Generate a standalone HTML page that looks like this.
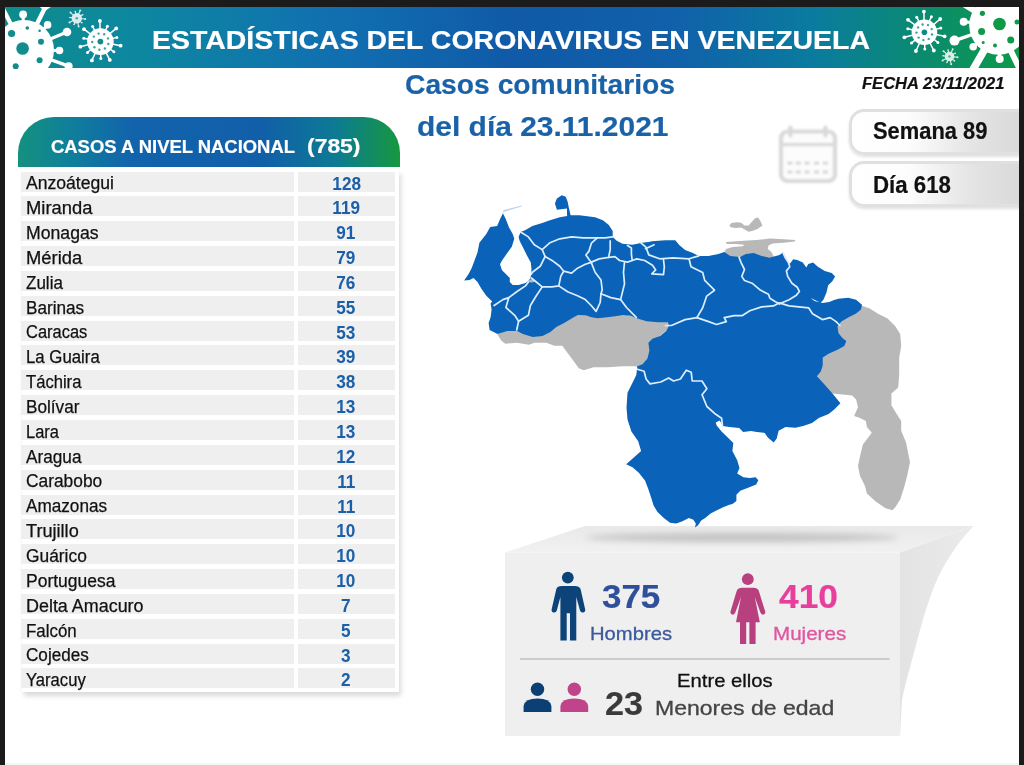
<!DOCTYPE html>
<html lang="es">
<head>
<meta charset="utf-8">
<title>Estadísticas del Coronavirus en Venezuela</title>
<style>
html,body{margin:0;padding:0}
body{width:1024px;height:765px;position:relative;overflow:hidden;background:#fff;font-family:"Liberation Sans",sans-serif}
.frame{position:absolute;background:#1b1b1b}
.header{position:absolute;left:5px;top:6px;width:1014px;height:61.5px;
 background:linear-gradient(90deg,#0e8c8a 0%,#0d87a0 13%,#1170b0 32%,#105aa8 50%,#1060aa 66%,#0a7c9e 80%,#0a8a72 90%,#0d9a48 100%)}
.t{position:absolute;white-space:nowrap;line-height:1;transform-origin:0 0;margin:0}
.gfx{position:absolute;left:0;top:0;width:1024px;height:765px}
.thead{position:absolute;left:18px;top:116.5px;width:381.5px;height:50px;border-radius:36px 36px 0 0;
 background:linear-gradient(90deg,#14917e 0%,#0f809a 13%,#1263ac 30%,#115fa8 64%,#0d7a94 83%,#16983e 100%)}
.tshadow{position:absolute;left:22px;top:170px;width:377px;height:521.5px;background:#fff;box-shadow:2px 4px 5px rgba(0,0,0,.15)}
.row{position:absolute;left:21px;width:374px;height:20px}
.row .c1,.row .c2{position:absolute;top:0;height:20px;background:#efefef;line-height:20px;font-size:17.5px;white-space:nowrap}
.row .c1{left:0;width:272.5px;color:#111}
.row .c2{left:277px;width:96.5px;color:#1a5fa8;font-weight:700;text-align:center}
.row .c1 span{position:absolute;left:5px;top:1.85px;-webkit-text-stroke:.25px #111;transform:scaleX(0.9939);transform-origin:0 0}
.row .c2 span{display:inline-block;position:relative;top:2.05px;font-size:17.6px;transform:scaleX(.977)}
.pill{position:absolute;left:849px;width:200px;height:40.4px;border:3.2px solid #e0e0e0;border-radius:15px 0 0 15px;
 background:linear-gradient(90deg,#fff 0%,#fdfdfd 28%,#e4e4e4 60%,#d2d2d2 100%);box-shadow:0 2px 3px rgba(0,0,0,.12)}
</style>
</head>
<body>
<div class="header"></div>
<svg class="gfx" viewBox="0 0 1024 765">
<defs>
<filter id="blur2"><feGaussianBlur stdDeviation="2.2"/></filter>
<filter id="blur3" x="-10%" y="-300%" width="120%" height="700%"><feGaussianBlur stdDeviation="3"/></filter>
<filter id="blur1"><feGaussianBlur stdDeviation="0.8"/></filter>
<linearGradient id="topface" x1="0" y1="0" x2="0" y2="1"><stop offset="0" stop-color="#e9e9e9"/><stop offset="1" stop-color="#f1f1f1"/></linearGradient>
<linearGradient id="sideface" x1="0" y1="0" x2="1" y2="0"><stop offset="0" stop-color="#e3e3e3"/><stop offset="1" stop-color="#ebebeb"/></linearGradient>
</defs>
<!-- header viruses -->
<clipPath id="hdrclip"><rect x="5" y="6" width="1014" height="63"/></clipPath>
<g clip-path="url(#hdrclip)">
<g>
<line x1="24.0" y1="50.0" x2="45.8" y2="6.1" stroke="#fff" stroke-width="4.4" stroke-linecap="round"/>
<circle cx="45.8" cy="6.1" r="0.0" fill="#fff"/>
<line x1="24.0" y1="50.0" x2="67.0" y2="32.0" stroke="#fff" stroke-width="3.2" stroke-linecap="round"/>
<circle cx="67.0" cy="32.0" r="4.3" fill="#fff"/>
<line x1="24.0" y1="50.0" x2="47.6" y2="24.9" stroke="#fff" stroke-width="3.0" stroke-linecap="round"/>
<circle cx="47.6" cy="24.9" r="3.8" fill="#fff"/>
<line x1="24.0" y1="50.0" x2="59.5" y2="50.5" stroke="#fff" stroke-width="3.0" stroke-linecap="round"/>
<circle cx="59.5" cy="50.5" r="3.8" fill="#fff"/>
<line x1="24.0" y1="50.0" x2="68.6" y2="66.2" stroke="#fff" stroke-width="3.4" stroke-linecap="round"/>
<circle cx="68.6" cy="66.2" r="4.0" fill="#fff"/>
<line x1="24.0" y1="50.0" x2="23.1" y2="14.5" stroke="#fff" stroke-width="3.0" stroke-linecap="round"/>
<circle cx="23.1" cy="14.5" r="3.9" fill="#fff"/>
<line x1="24.0" y1="50.0" x2="2.2" y2="7.2" stroke="#fff" stroke-width="4.2" stroke-linecap="round"/>
<circle cx="2.2" cy="7.2" r="0.0" fill="#fff"/>
<circle cx="24.0" cy="50.0" r="30.0" fill="#fff"/>
<circle cx="11.6" cy="33.5" r="3.6" fill="#128c8c"/>
<circle cx="22.6" cy="48.5" r="6.3" fill="#128c8c"/>
<circle cx="41.0" cy="41.7" r="3.0" fill="#128c8c"/>
<circle cx="39.6" cy="60.2" r="3.0" fill="#128c8c"/>
<circle cx="27.3" cy="28.0" r="1.8" fill="#128c8c"/>
<circle cx="15.7" cy="66.3" r="3.0" fill="#128c8c"/>
<circle cx="39.6" cy="30.8" r="1.3" fill="#128c8c"/>
</g>
<path d="M44.5 9.5 L40 5 M44.5 9.5 L51 5" stroke="#fff" stroke-width="3" stroke-linecap="round"/>
<g opacity="1.00">
<line x1="112.1" y1="44.0" x2="120.6" y2="45.7" stroke="#fff" stroke-width="1.5"/>
<circle cx="120.6" cy="45.7" r="1.9" fill="#fff"/>
<line x1="109.9" y1="48.8" x2="113.9" y2="51.8" stroke="#fff" stroke-width="1.5"/>
<circle cx="113.9" cy="51.8" r="1.5" fill="#fff"/>
<line x1="105.9" y1="52.3" x2="109.8" y2="59.9" stroke="#fff" stroke-width="1.5"/>
<circle cx="109.8" cy="59.9" r="1.9" fill="#fff"/>
<line x1="100.7" y1="53.6" x2="100.8" y2="58.5" stroke="#fff" stroke-width="1.5"/>
<circle cx="100.8" cy="58.5" r="1.5" fill="#fff"/>
<line x1="95.5" y1="52.5" x2="91.9" y2="60.4" stroke="#fff" stroke-width="1.5"/>
<circle cx="91.9" cy="60.4" r="1.9" fill="#fff"/>
<line x1="91.2" y1="49.3" x2="87.5" y2="52.5" stroke="#fff" stroke-width="1.5"/>
<circle cx="87.5" cy="52.5" r="1.5" fill="#fff"/>
<line x1="88.8" y1="44.5" x2="80.4" y2="46.7" stroke="#fff" stroke-width="1.5"/>
<circle cx="80.4" cy="46.7" r="1.9" fill="#fff"/>
<line x1="88.7" y1="39.2" x2="83.8" y2="38.2" stroke="#fff" stroke-width="1.5"/>
<circle cx="83.8" cy="38.2" r="1.5" fill="#fff"/>
<line x1="90.9" y1="34.4" x2="84.0" y2="29.2" stroke="#fff" stroke-width="1.5"/>
<circle cx="84.0" cy="29.2" r="1.9" fill="#fff"/>
<line x1="94.9" y1="30.9" x2="92.7" y2="26.6" stroke="#fff" stroke-width="1.5"/>
<circle cx="92.7" cy="26.6" r="1.5" fill="#fff"/>
<line x1="100.1" y1="29.6" x2="99.9" y2="21.0" stroke="#fff" stroke-width="1.5"/>
<circle cx="99.9" cy="21.0" r="1.9" fill="#fff"/>
<line x1="105.3" y1="30.7" x2="107.4" y2="26.2" stroke="#fff" stroke-width="1.5"/>
<circle cx="107.4" cy="26.2" r="1.5" fill="#fff"/>
<line x1="109.6" y1="33.9" x2="116.2" y2="28.4" stroke="#fff" stroke-width="1.5"/>
<circle cx="116.2" cy="28.4" r="1.9" fill="#fff"/>
<line x1="112.0" y1="38.7" x2="116.8" y2="37.4" stroke="#fff" stroke-width="1.5"/>
<circle cx="116.8" cy="37.4" r="1.5" fill="#fff"/>
<circle cx="100.4" cy="41.6" r="13.3" fill="#fff"/>
<circle cx="100.4" cy="41.6" r="2.9" fill="#128c8c"/>
<circle cx="108.3" cy="44.0" r="1.2" fill="#128c8c" opacity=".8"/>
<circle cx="104.9" cy="48.5" r="1.2" fill="#128c8c" opacity=".8"/>
<circle cx="99.4" cy="49.8" r="1.2" fill="#128c8c" opacity=".8"/>
<circle cx="94.4" cy="47.2" r="1.2" fill="#128c8c" opacity=".8"/>
<circle cx="92.2" cy="42.0" r="1.2" fill="#128c8c" opacity=".8"/>
<circle cx="93.8" cy="36.6" r="1.2" fill="#128c8c" opacity=".8"/>
<circle cx="98.6" cy="33.6" r="1.2" fill="#128c8c" opacity=".8"/>
<circle cx="104.2" cy="34.3" r="1.2" fill="#128c8c" opacity=".8"/>
<circle cx="108.0" cy="38.4" r="1.2" fill="#128c8c" opacity=".8"/>
</g>
<g opacity="0.85">
<line x1="81.5" y1="18.7" x2="85.2" y2="19.0" stroke="#fff" stroke-width="1.1"/>
<circle cx="85.2" cy="19.0" r="1.0" fill="#fff"/>
<line x1="80.3" y1="21.3" x2="81.9" y2="22.8" stroke="#fff" stroke-width="1.1"/>
<circle cx="81.9" cy="22.8" r="0.8" fill="#fff"/>
<line x1="77.8" y1="22.8" x2="78.6" y2="26.4" stroke="#fff" stroke-width="1.1"/>
<circle cx="78.6" cy="26.4" r="1.0" fill="#fff"/>
<line x1="74.9" y1="22.5" x2="74.0" y2="24.5" stroke="#fff" stroke-width="1.1"/>
<circle cx="74.0" cy="24.5" r="0.8" fill="#fff"/>
<line x1="72.8" y1="20.6" x2="69.5" y2="22.4" stroke="#fff" stroke-width="1.1"/>
<circle cx="69.5" cy="22.4" r="1.0" fill="#fff"/>
<line x1="72.1" y1="17.7" x2="69.9" y2="17.5" stroke="#fff" stroke-width="1.1"/>
<circle cx="69.9" cy="17.5" r="0.8" fill="#fff"/>
<line x1="73.3" y1="15.1" x2="70.5" y2="12.6" stroke="#fff" stroke-width="1.1"/>
<circle cx="70.5" cy="12.6" r="1.0" fill="#fff"/>
<line x1="75.8" y1="13.6" x2="75.3" y2="11.5" stroke="#fff" stroke-width="1.1"/>
<circle cx="75.3" cy="11.5" r="0.8" fill="#fff"/>
<line x1="78.7" y1="13.9" x2="80.2" y2="10.5" stroke="#fff" stroke-width="1.1"/>
<circle cx="80.2" cy="10.5" r="1.0" fill="#fff"/>
<line x1="80.8" y1="15.8" x2="82.7" y2="14.7" stroke="#fff" stroke-width="1.1"/>
<circle cx="82.7" cy="14.7" r="0.8" fill="#fff"/>
<circle cx="76.8" cy="18.2" r="5.2" fill="#fff"/>
<circle cx="76.8" cy="18.2" r="1.3" fill="#128c8c" opacity=".7"/>
</g>
<g opacity="1.00">
<line x1="935.7" y1="34.5" x2="944.6" y2="36.3" stroke="#fff" stroke-width="1.5"/>
<circle cx="944.6" cy="36.3" r="1.9" fill="#fff"/>
<line x1="933.6" y1="39.2" x2="937.9" y2="42.4" stroke="#fff" stroke-width="1.5"/>
<circle cx="937.9" cy="42.4" r="1.5" fill="#fff"/>
<line x1="929.7" y1="42.5" x2="933.8" y2="50.5" stroke="#fff" stroke-width="1.5"/>
<circle cx="933.8" cy="50.5" r="1.9" fill="#fff"/>
<line x1="924.7" y1="43.7" x2="924.8" y2="49.1" stroke="#fff" stroke-width="1.5"/>
<circle cx="924.8" cy="49.1" r="1.5" fill="#fff"/>
<line x1="919.7" y1="42.7" x2="915.9" y2="51.0" stroke="#fff" stroke-width="1.5"/>
<circle cx="915.9" cy="51.0" r="1.9" fill="#fff"/>
<line x1="915.6" y1="39.6" x2="911.5" y2="43.1" stroke="#fff" stroke-width="1.5"/>
<circle cx="911.5" cy="43.1" r="1.5" fill="#fff"/>
<line x1="913.2" y1="35.0" x2="904.4" y2="37.3" stroke="#fff" stroke-width="1.5"/>
<circle cx="904.4" cy="37.3" r="1.9" fill="#fff"/>
<line x1="913.1" y1="29.9" x2="907.8" y2="28.8" stroke="#fff" stroke-width="1.5"/>
<circle cx="907.8" cy="28.8" r="1.5" fill="#fff"/>
<line x1="915.2" y1="25.2" x2="908.0" y2="19.8" stroke="#fff" stroke-width="1.5"/>
<circle cx="908.0" cy="19.8" r="1.9" fill="#fff"/>
<line x1="919.1" y1="21.9" x2="916.7" y2="17.2" stroke="#fff" stroke-width="1.5"/>
<circle cx="916.7" cy="17.2" r="1.5" fill="#fff"/>
<line x1="924.1" y1="20.7" x2="923.9" y2="11.6" stroke="#fff" stroke-width="1.5"/>
<circle cx="923.9" cy="11.6" r="1.9" fill="#fff"/>
<line x1="929.1" y1="21.7" x2="931.4" y2="16.8" stroke="#fff" stroke-width="1.5"/>
<circle cx="931.4" cy="16.8" r="1.5" fill="#fff"/>
<line x1="933.2" y1="24.8" x2="940.2" y2="19.0" stroke="#fff" stroke-width="1.5"/>
<circle cx="940.2" cy="19.0" r="1.9" fill="#fff"/>
<line x1="935.6" y1="29.4" x2="940.8" y2="28.0" stroke="#fff" stroke-width="1.5"/>
<circle cx="940.8" cy="28.0" r="1.5" fill="#fff"/>
<circle cx="924.4" cy="32.2" r="12.8" fill="#fff"/>
<circle cx="924.4" cy="32.2" r="2.8" fill="#0a8a8a"/>
<circle cx="932.0" cy="34.5" r="1.2" fill="#0a8a8a" opacity=".8"/>
<circle cx="928.7" cy="38.9" r="1.2" fill="#0a8a8a" opacity=".8"/>
<circle cx="923.4" cy="40.1" r="1.2" fill="#0a8a8a" opacity=".8"/>
<circle cx="918.6" cy="37.6" r="1.2" fill="#0a8a8a" opacity=".8"/>
<circle cx="916.5" cy="32.6" r="1.2" fill="#0a8a8a" opacity=".8"/>
<circle cx="918.1" cy="27.4" r="1.2" fill="#0a8a8a" opacity=".8"/>
<circle cx="922.6" cy="24.5" r="1.2" fill="#0a8a8a" opacity=".8"/>
<circle cx="928.0" cy="25.1" r="1.2" fill="#0a8a8a" opacity=".8"/>
<circle cx="931.7" cy="29.1" r="1.2" fill="#0a8a8a" opacity=".8"/>
</g>
<g opacity="0.85">
<line x1="953.8" y1="56.9" x2="957.5" y2="57.3" stroke="#fff" stroke-width="1.1"/>
<circle cx="957.5" cy="57.3" r="1.0" fill="#fff"/>
<line x1="952.7" y1="59.4" x2="954.4" y2="60.9" stroke="#fff" stroke-width="1.1"/>
<circle cx="954.4" cy="60.9" r="0.8" fill="#fff"/>
<line x1="950.4" y1="60.7" x2="951.2" y2="64.3" stroke="#fff" stroke-width="1.1"/>
<circle cx="951.2" cy="64.3" r="1.0" fill="#fff"/>
<line x1="947.8" y1="60.5" x2="946.9" y2="62.5" stroke="#fff" stroke-width="1.1"/>
<circle cx="946.9" cy="62.5" r="0.8" fill="#fff"/>
<line x1="945.8" y1="58.7" x2="942.6" y2="60.5" stroke="#fff" stroke-width="1.1"/>
<circle cx="942.6" cy="60.5" r="1.0" fill="#fff"/>
<line x1="945.2" y1="56.1" x2="943.0" y2="55.8" stroke="#fff" stroke-width="1.1"/>
<circle cx="943.0" cy="55.8" r="0.8" fill="#fff"/>
<line x1="946.3" y1="53.6" x2="943.5" y2="51.2" stroke="#fff" stroke-width="1.1"/>
<circle cx="943.5" cy="51.2" r="1.0" fill="#fff"/>
<line x1="948.6" y1="52.3" x2="948.1" y2="50.1" stroke="#fff" stroke-width="1.1"/>
<circle cx="948.1" cy="50.1" r="0.8" fill="#fff"/>
<line x1="951.2" y1="52.5" x2="952.7" y2="49.2" stroke="#fff" stroke-width="1.1"/>
<circle cx="952.7" cy="49.2" r="1.0" fill="#fff"/>
<line x1="953.2" y1="54.3" x2="955.2" y2="53.2" stroke="#fff" stroke-width="1.1"/>
<circle cx="955.2" cy="53.2" r="0.8" fill="#fff"/>
<circle cx="949.5" cy="56.5" r="4.8" fill="#fff"/>
<circle cx="949.5" cy="56.5" r="1.2" fill="#0a8a70" opacity=".7"/>
</g>
<g>
<line x1="998.5" y1="25.5" x2="954.5" y2="40.6" stroke="#fff" stroke-width="3.4" stroke-linecap="round"/>
<circle cx="954.5" cy="40.6" r="5.0" fill="#fff"/>
<line x1="998.5" y1="25.5" x2="963.7" y2="21.8" stroke="#fff" stroke-width="3.0" stroke-linecap="round"/>
<circle cx="963.7" cy="21.8" r="4.0" fill="#fff"/>
<line x1="998.5" y1="25.5" x2="999.7" y2="59.0" stroke="#fff" stroke-width="3.2" stroke-linecap="round"/>
<circle cx="999.7" cy="59.0" r="4.0" fill="#fff"/>
<line x1="998.5" y1="25.5" x2="973.2" y2="46.7" stroke="#fff" stroke-width="3.0" stroke-linecap="round"/>
<circle cx="973.2" cy="46.7" r="3.8" fill="#fff"/>
<line x1="998.5" y1="25.5" x2="972.5" y2="70.5" stroke="#fff" stroke-width="7.5" stroke-linecap="round"/>
<circle cx="972.5" cy="70.5" r="0.0" fill="#fff"/>
<line x1="998.5" y1="25.5" x2="1020.4" y2="70.4" stroke="#fff" stroke-width="6.0" stroke-linecap="round"/>
<circle cx="1020.4" cy="70.4" r="0.0" fill="#fff"/>
<line x1="998.5" y1="25.5" x2="959.5" y2="1.1" stroke="#fff" stroke-width="6.5" stroke-linecap="round"/>
<circle cx="959.5" cy="1.1" r="0.0" fill="#fff"/>
<circle cx="998.5" cy="25.5" r="29.3" fill="#fff"/>
<circle cx="999.5" cy="24.0" r="6.3" fill="#109a48"/>
<circle cx="981.6" cy="31.4" r="3.5" fill="#109a48"/>
<circle cx="1010.7" cy="40.0" r="3.5" fill="#109a48"/>
<circle cx="982.4" cy="13.3" r="2.6" fill="#109a48"/>
<circle cx="995.0" cy="45.5" r="2.0" fill="#109a48"/>
<circle cx="983.2" cy="42.4" r="1.5" fill="#109a48"/>
<circle cx="1017.0" cy="22.0" r="2.5" fill="#109a48"/>
</g>
</g>
<!-- 3D box -->
<polygon points="505,552.5 585,526 973.5,526 900,552.5" fill="url(#topface)"/>
<ellipse cx="742" cy="537.5" rx="156" ry="4.6" fill="#9a9a9a" opacity=".5" filter="url(#blur3)"/>
<path d="M900 552.5 L973.5 526 C955 545 940 570 932 592 S920 630 915.5 647 S905 685 902 700 L900 736 Z" fill="url(#sideface)"/>
<rect x="505" y="552.5" width="395" height="183.5" fill="#efefef"/>
<rect x="520" y="658.3" width="369.5" height="1.4" fill="#bdbdbd"/>
<!-- map -->
<path fill="#b8b8b8" d="M497.5 333.9 L507.3 330.0 L517.1 330.0 L522.9 332.9 L532.7 335.9 L542.5 334.9 L550.4 331.0 L556.3 326.1 L564.1 322.2 L572.0 317.3 L577.8 313.9 L585.7 314.3 L597.5 317.3 L615.1 315.3 L622.9 313.9 L636.7 317.3 L658.2 321.2 L669.0 321.2 L670.0 327.1 L654.3 340.8 L651.4 358.4 L640.6 368.2 L635.7 366.3 L622.9 366.3 L607.3 367.3 L593.5 367.3 L583.7 370.2 L578.8 368.2 L573.9 361.4 L568.0 353.5 L562.2 345.7 L554.3 345.7 L546.5 342.7 L534.7 342.7 L528.8 344.7 L517.1 342.7 L505.3 343.7 L501.4 340.8 L498.4 335.9Z"/>
<path fill="#b8b8b8" d="M862.0 305.7 L869.8 308.6 L877.6 313.5 L887.5 318.4 L895.3 326.3 L900.2 334.1 L901.2 345.9 L899.2 357.6 L899.2 373.3 L899.2 373.9 L898.2 387.6 L891.4 393.5 L891.4 405.3 L897.3 415.1 L901.2 421.0 L901.2 430.8 L906.1 442.5 L908.0 452.4 L910.0 462.2 L907.1 475.9 L904.1 487.6 L900.2 499.4 L895.3 507.3 L892.4 510.2 L885.5 508.2 L875.7 501.4 L866.9 493.5 L864.9 485.7 L860.0 475.9 L858.0 466.1 L860.0 456.3 L862.9 444.5 L868.8 436.7 L871.8 432.7 L866.9 426.9 L865.9 421.0 L860.0 418.0 L854.1 416.1 L858.0 407.3 L856.1 399.4 L852.2 395.5 L842.4 394.5 L832.5 393.5 L814.9 375.9 L818.8 357.6 L834.5 338.0 L834.5 322.4 L854.1 310.6Z"/>
<path fill="#b8b8b8" d="M729.4 225.6 L731.5 223.1 L737.0 222.2 L741.1 222.8 L744.5 225.6 L748.6 225.6 L752.1 221.5 L755.5 218.0 L758.2 217.4 L761.0 222.2 L762.4 225.6 L757.5 229.0 L752.1 231.1 L748.6 231.8 L745.2 229.7 L741.1 227.6 L735.6 228.1 L730.8 227.2Z"/>
<path fill="#b8b8b8" d="M726.0 242.1 L739.7 241.0 L756.2 240.0 L769.9 238.6 L783.6 239.3 L795.3 240.0 L794.6 241.4 L783.6 242.7 L772.6 243.4 L768.5 245.5 L767.8 248.9 L771.3 251.7 L774.3 257.8 L769.9 258.5 L761.7 257.2 L753.4 254.4 L747.9 253.7 L741.1 256.5 L735.6 257.8 L728.7 256.5 L724.3 252.4 L726.0 248.9 L732.8 246.9 L742.4 246.2 L744.5 244.8 L735.6 244.1 L726.7 244.1Z"/>
<path fill="#0a63b8" d="M502.9 213.3 L505.9 219.2 L508.8 227.1 L512.7 233.9 L514.3 238.8 L511.8 246.7 L506.9 253.5 L502.0 260.4 L500.0 264.3 L502.0 270.2 L506.9 275.1 L509.8 278.0 L509.8 282.0 L512.7 284.9 L518.6 284.9 L525.5 282.9 L528.4 281.0 L530.4 278.0 L531.4 274.1 L531.4 268.2 L530.8 262.4 L527.5 256.5 L523.5 248.6 L519.6 240.8 L518.6 236.9 L520.6 232.0 L525.5 230.0 L532.4 226.1 L542.2 223.1 L550.0 220.2 L559.8 217.3 L567.1 216.1 L566.9 208.6 L556.9 209.8 L554.9 203.5 L556.9 198.6 L561.8 195.3 L565.7 196.7 L567.6 201.6 L568.8 207.5 L570.6 215.3 L579.4 215.3 L587.3 216.3 L595.1 217.3 L602.9 220.2 L608.8 225.1 L612.7 231.0 L612.7 236.9 L616.7 240.8 L622.5 243.7 L632.4 244.7 L642.2 242.7 L650.0 241.8 L651.8 241.2 L665.5 240.2 L675.3 240.2 L679.2 245.1 L685.1 250.0 L692.9 252.9 L698.8 255.9 L708.6 255.9 L718.4 253.9 L724.3 252.0 L730.2 255.9 L740.0 256.9 L745.9 253.9 L753.7 252.9 L761.6 255.9 L769.4 257.8 L779.5 255.1 L782.9 252.4 L785.0 255.8 L787.1 259.9 L789.8 264.0 L793.2 259.2 L797.3 259.9 L802.8 262.6 L806.3 267.4 L808.3 264.0 L813.1 262.6 L817.9 266.8 L824.8 270.9 L831.7 272.9 L835.1 276.4 L832.3 281.2 L828.2 285.3 L826.4 292.8 L823.4 299.7 L820.7 302.7 L810.6 298.0 L814.5 301.0 L822.4 302.9 L829.2 302.0 L834.1 300.0 L838.4 298.8 L848.2 297.8 L856.1 299.8 L862.0 304.7 L861.0 309.6 L856.1 313.5 L848.2 317.5 L841.4 321.4 L837.5 326.3 L838.4 333.1 L842.4 338.0 L846.3 341.0 L844.3 345.9 L837.5 349.8 L828.6 353.7 L822.7 357.6 L822.7 365.5 L820.8 371.4 L816.9 376.3 L824.7 384.7 L832.5 393.5 L840.4 403.3 L834.5 409.2 L828.6 414.1 L818.8 418.0 L812.0 422.9 L803.1 425.9 L795.3 427.8 L785.5 426.9 L778.6 430.8 L776.7 438.6 L773.7 442.5 L767.8 437.6 L764.7 432.9 L756.9 432.0 L751.0 431.0 L743.1 432.0 L739.2 428.0 L729.4 427.1 L722.5 426.1 L722.5 424.5 L719.6 420.6 L715.7 422.5 L716.7 425.5 L721.6 431.4 L727.5 437.3 L733.3 443.1 L732.4 451.0 L737.2 460.3 L739.5 468.1 L737.2 473.6 L743.4 477.2 L749.7 478.0 L755.6 477.2 L758.3 480.3 L756.2 484.5 L748.1 487.7 L740.3 490.8 L736.4 494.7 L736.4 500.9 L732.5 504.1 L729.4 504.8 L723.1 507.2 L716.9 510.3 L710.6 513.4 L705.2 518.1 L701.2 520.5 L698.1 525.2 L695.0 527.5 L695.8 523.6 L693.4 519.7 L688.8 518.1 L682.5 521.2 L676.2 523.6 L670.0 522.8 L663.8 518.1 L657.5 511.9 L653.6 505.6 L651.2 497.8 L648.1 488.4 L645.0 480.6 L638.8 472.8 L632.5 467.3 L626.2 464.2 L634.1 457.2 L641.1 450.9 L638.2 441.2 L631.4 431.4 L627.5 419.6 L626.5 407.8 L627.5 392.7 L632.4 382.9 L636.3 375.1 L637.3 366.3 L642.5 364.3 L647.5 358.4 L649.4 350.6 L648.4 342.7 L652.4 338.8 L660.2 335.9 L666.1 331.0 L669.0 326.1 L668.0 322.2 L658.2 322.2 L646.5 321.2 L636.7 318.2 L630.8 315.7 L622.9 314.9 L615.1 316.3 L607.3 317.3 L597.5 318.2 L591.6 317.3 L585.7 315.3 L577.8 314.9 L572.0 318.2 L564.1 323.1 L556.3 327.1 L550.4 332.0 L542.5 335.9 L532.7 336.9 L522.9 333.9 L517.1 331.0 L507.3 331.0 L497.5 333.9 L489.6 330.0 L488.6 323.1 L490.6 317.3 L491.6 309.4 L490.6 303.5 L492.2 301.6 L486.3 295.7 L481.4 288.8 L477.5 282.0 L473.5 278.0 L469.6 280.0 L464.1 280.4 L468.6 274.1 L471.6 268.2 L474.5 260.4 L477.5 252.5 L479.4 242.7 L486.3 233.9 L490.2 227.1 L497.1 226.1 L500.0 219.2Z"/>
<path fill="#b9d2ec" d="M502.5 212.9 L503.9 210.0 L521.6 205.5 L521.8 206.5 L504.9 211.4Z"/>
<ellipse cx="531.5" cy="280.8" rx="3.2" ry="1.6" fill="#b8b8b8"/>
<g fill="none" stroke="#dceeff" stroke-width="1.7" stroke-linejoin="round" stroke-linecap="round">
<path d="M520.6 232.0 L528.4 236.9 L534.3 244.7 L542.2 249.6 L545.1 256.5"/>
<path d="M542.2 249.6 L550.0 242.7 L559.8 238.8 L571.6 236.9 L583.3 237.8 L595.1 237.8 L604.9 237.8 L612.7 236.9"/>
<path d="M545.1 256.5 L552.0 260.4 L559.8 266.3 L563.7 271.2 L571.6 273.1 L577.5 268.2 L585.3 264.3 L591.2 262.4"/>
<path d="M545.1 256.5 L540.2 266.3 L532.4 272.2 L531.4 274.1"/>
<path d="M531.4 278.0 L536.3 282.0 L542.2 286.9 L552.0 286.9 L558.8 285.9 L560.8 276.1 L563.7 271.2"/>
<path d="M591.2 262.4 L595.1 272.2 L601.0 280.0 L602.2 289.8 L601.0 293.7"/>
<path d="M558.8 285.9 L567.6 291.8 L577.5 295.7 L585.3 299.6 L591.2 305.5 L596.1 311.4 L600.2 302.5 L601.0 293.7 L610.8 297.6 L620.6 299.6 L626.5 307.5 L636.3 317.3"/>
<path d="M624.5 262.4 L623.5 272.2 L624.5 283.9 L620.6 299.6"/>
<path d="M542.2 286.9 L536.3 295.7 L530.4 305.5 L528.4 315.3 L518.6 321.2 L516.7 330.0"/>
<path d="M494.1 305.5 L502.9 299.6 L508.8 297.6 L505.9 307.5 L514.7 315.3 L518.6 321.2"/>
<path d="M508.8 297.6 L516.7 291.8 L525.5 285.9 L528.4 282.0"/>
<path d="M640.0 242.2 L645.9 247.1 L648.8 254.9 L659.6 258.8 L673.3 257.8 L689.0 258.8 L698.8 255.9"/>
<path d="M689.0 258.8 L691.0 266.7 L702.7 272.5 L704.7 280.4 L714.5 290.2 L706.7 296.1 L702.7 307.8 L696.9 317.6"/>
<path d="M739.0 257.2 L741.1 262.6 L744.5 269.5 L741.8 276.4 L744.5 280.5 L752.1 283.2 L760.3 290.1 L768.5 294.2 L769.9 298.3 L775.4 301.8 L779.5 303.8"/>
<path d="M782.9 252.4 L785.0 257.2 L788.4 262.6 L789.8 266.8 L786.4 270.9 L787.7 276.4 L791.9 283.2 L797.3 287.3 L799.4 291.5 L796.0 295.6 L789.1 299.7 L779.5 303.8"/>
<path d="M665.5 325.5 L671.4 325.5 L685.1 319.6 L696.9 317.6 L708.6 321.6 L716.5 324.5 L726.3 321.6 L724.3 317.6 L734.1 315.7 L742.0 315.7 L749.8 310.8 L761.6 306.9 L773.3 305.9 L779.2 302.9 L789.0 305.9 L808.6 307.8 L812.5 313.7 L822.4 319.6 L830.2 317.6 L836.1 321.6 L840.0 325.5"/>
<path d="M637.3 369.2 L644.1 371.2 L646.1 379.0 L650.0 383.9 L660.8 382.0 L668.6 378.0 L673.5 381.0 L680.4 379.0 L686.3 370.2 L691.2 372.2 L692.2 381.0 L702.0 381.0 L706.9 388.8 L702.0 394.7 L706.9 406.5 L715.7 414.3 L721.6 418.2 L722.5 426.1"/>
<path d="M597.6 237.7 L591.4 243.2 L589.0 251.1 L585.9 255.0 L589.8 260.5 L591.4 262.1"/>
<path d="M591.4 262.1 L599.2 258.9 L608.6 257.4 L610.2 249.5 L610.2 240.9"/>
<path d="M608.6 257.4 L614.9 256.6 L619.6 260.5 L627.5 262.1 L632.2 260.5 L631.4 254.2 L631.4 247.9 L627.5 245.6"/>
<path d="M632.2 260.5 L636.9 258.9 L644.7 260.5 L652.5 265.2 L655.7 269.9 L651.8 273.8 L663.5 274.6 L664.3 266.8 L663.5 259.7"/>
<path d="M645.5 248.7 L654.1 244.8"/>
</g>
<!-- calendar icon -->
<g filter="url(#blur1)">
<rect x="781" y="131.5" width="54" height="49.5" rx="6.5" fill="#fcfcfc" stroke="#d9d9d9" stroke-width="4.2"/>
<rect x="781" y="142.8" width="54" height="3.6" fill="#dcdcdc"/>
<rect x="788.3" y="125.5" width="4.2" height="12" rx="2.1" fill="#d9d9d9"/>
<rect x="823.3" y="125.5" width="4.2" height="12" rx="2.1" fill="#d9d9d9"/>
<g fill="#d6d6d6">
<rect x="787.4" y="161.6" width="5" height="3"/><rect x="795.7" y="161.6" width="5" height="3"/><rect x="804.6" y="161.6" width="5" height="3"/><rect x="814" y="161.6" width="5" height="3"/><rect x="822.9" y="161.6" width="5" height="3"/>
<rect x="787.4" y="170.5" width="5" height="3"/><rect x="795.7" y="170.5" width="5" height="3"/><rect x="804.6" y="170.5" width="5" height="3"/><rect x="814" y="170.5" width="5" height="3"/><rect x="822.9" y="170.5" width="5" height="3"/>
</g>
</g>
<!-- people icons -->
<g fill="#0c4379"><circle cx="567.8" cy="577.6" r="5.9"/><path d="M556.1 590 Q556.5 586.1 562 586.1 L574.5 586.1 Q580.2 586.1 580.8 590 L585.2 609.5 Q585.5 612 583 612.5 Q580.8 612.8 580 610.5 L576.3 597 L576.3 640.6 L570 640.6 L570 613.3 L566.7 613.3 L566.7 640.6 L560.4 640.6 L560.4 597 L556.8 610.5 Q556 612.8 553.8 612.5 Q551.3 612 551.6 609.5 Z"/></g>
<g fill="#b8407f"><circle cx="747.8" cy="579.2" r="5.9"/><path d="M736.5 591.5 Q737.5 587.8 742 587.8 L753.6 587.8 Q758 587.8 759 591.5 L765.2 611.5 Q765.8 614 763.5 614.6 Q761.3 615 760.4 612.6 L754.8 597 L759.8 622.2 L755.6 622.2 L755.6 644.1 L749.4 644.1 L749.4 622.2 L746.2 622.2 L746.2 644.1 L740 644.1 L740 622.2 L736 622.2 L741 597 L735.3 612.6 Q734.4 615 732.2 614.6 Q730 614 730.5 611.5 Z"/></g>
<g fill="#0c3f73"><circle cx="537.5" cy="689.3" r="6.7"/><path d="M523.6 711.9 L523.6 706 Q525.0 698.6 537.5 698.6 Q550.0 698.6 551.4 706 L551.4 711.9 Z"/></g>
<g fill="#c0448a"><circle cx="574.3" cy="689.3" r="6.7"/><path d="M560.4 711.9 L560.4 706 Q561.8 698.6 574.3 698.6 Q586.8 698.6 588.2 706 L588.2 711.9 Z"/></g>
</svg>
<div class="tshadow"></div>
<div class="thead"></div>
<div class="row" style="top:171.5px"><div class="c1"><span style="transform:scaleX(1.005)">Anzoátegui</span></div><div class="c2"><span>128</span></div></div>
<div class="row" style="top:196.3px"><div class="c1"><span style="transform:scaleX(1.050)">Miranda</span></div><div class="c2"><span>119</span></div></div>
<div class="row" style="top:221.2px"><div class="c1"><span style="transform:scaleX(1.008)">Monagas</span></div><div class="c2"><span>91</span></div></div>
<div class="row" style="top:246.0px"><div class="c1"><span style="transform:scaleX(1.050)">Mérida</span></div><div class="c2"><span>79</span></div></div>
<div class="row" style="top:270.9px"><div class="c1"><span style="transform:scaleX(0.973)">Zulia</span></div><div class="c2"><span>76</span></div></div>
<div class="row" style="top:295.7px"><div class="c1"><span style="transform:scaleX(0.981)">Barinas</span></div><div class="c2"><span>55</span></div></div>
<div class="row" style="top:320.6px"><div class="c1"><span style="transform:scaleX(0.940)">Caracas</span></div><div class="c2"><span>53</span></div></div>
<div class="row" style="top:345.4px"><div class="c1"><span style="transform:scaleX(0.960)">La Guaira</span></div><div class="c2"><span>39</span></div></div>
<div class="row" style="top:370.3px"><div class="c1"><span style="transform:scaleX(0.949)">Táchira</span></div><div class="c2"><span>38</span></div></div>
<div class="row" style="top:395.1px"><div class="c1"><span style="transform:scaleX(0.982)">Bolívar</span></div><div class="c2"><span>13</span></div></div>
<div class="row" style="top:419.9px"><div class="c1"><span style="transform:scaleX(0.940)">Lara</span></div><div class="c2"><span>13</span></div></div>
<div class="row" style="top:444.8px"><div class="c1"><span style="transform:scaleX(0.983)">Aragua</span></div><div class="c2"><span>12</span></div></div>
<div class="row" style="top:469.6px"><div class="c1"><span style="transform:scaleX(0.991)">Carabobo</span></div><div class="c2"><span>11</span></div></div>
<div class="row" style="top:494.5px"><div class="c1"><span style="transform:scaleX(0.980)">Amazonas</span></div><div class="c2"><span>11</span></div></div>
<div class="row" style="top:519.3px"><div class="c1"><span style="transform:scaleX(1.036)">Trujillo</span></div><div class="c2"><span>10</span></div></div>
<div class="row" style="top:544.2px"><div class="c1"><span style="transform:scaleX(0.992)">Guárico</span></div><div class="c2"><span>10</span></div></div>
<div class="row" style="top:569.0px"><div class="c1"><span style="transform:scaleX(0.999)">Portuguesa</span></div><div class="c2"><span>10</span></div></div>
<div class="row" style="top:593.9px"><div class="c1"><span style="transform:scaleX(1.024)">Delta Amacuro</span></div><div class="c2"><span>7</span></div></div>
<div class="row" style="top:618.7px"><div class="c1"><span style="transform:scaleX(0.965)">Falcón</span></div><div class="c2"><span>5</span></div></div>
<div class="row" style="top:643.6px"><div class="c1"><span style="transform:scaleX(0.978)">Cojedes</span></div><div class="c2"><span>3</span></div></div>
<div class="row" style="top:668.4px"><div class="c1"><span style="transform:scaleX(0.949)">Yaracuy</span></div><div class="c2"><span>2</span></div></div>
<div class="pill" style="top:108.7px"></div>
<div class="pill" style="top:160.8px"></div>
<span class="t title" style="left:152.0px;top:28.0px;font-size:25.8px;font-weight:700;font-style:normal;color:#fff;-webkit-text-stroke:.2px #fff;transform:scaleX(1.1034)">ESTADÍSTICAS DEL CORONAVIRUS EN VENEZUELA</span>
<span class="t sub1" style="left:405.0px;top:71.0px;font-size:27.5px;font-weight:700;font-style:normal;color:#1a62a8;-webkit-text-stroke:.2px #1a62a8;transform:scaleX(1.0272)">Casos comunitarios</span>
<span class="t sub2" style="left:417.0px;top:112.7px;font-size:27.5px;font-weight:700;font-style:normal;color:#1a62a8;-webkit-text-stroke:.2px #1a62a8;transform:scaleX(1.0893)">del día 23.11.2021</span>
<span class="t fecha" style="left:861.5px;top:75.9px;font-size:15.8px;font-weight:700;font-style:italic;color:#111;-webkit-text-stroke:.2px #111;transform:scaleX(1.0470)">FECHA 23/11/2021</span>
<span class="t sem" style="left:873.0px;top:119.9px;font-size:23.5px;font-weight:700;font-style:normal;color:#111;-webkit-text-stroke:.2px #111;transform:scaleX(0.9323)">Semana 89</span>
<span class="t dia" style="left:873.0px;top:173.6px;font-size:23.5px;font-weight:700;font-style:normal;color:#111;-webkit-text-stroke:.2px #111;transform:scaleX(0.9476)">Día 618</span>
<span class="t th1" style="left:51.0px;top:138.2px;font-size:18.4px;font-weight:700;font-style:normal;color:#fff;-webkit-text-stroke:.2px #fff;transform:scaleX(1.0019)">CASOS A NIVEL NACIONAL</span>
<span class="t th2" style="left:307.0px;top:136.4px;font-size:20.5px;font-weight:700;font-style:normal;color:#fff;-webkit-text-stroke:.2px #fff;transform:scaleX(1.1179)">(785)</span>
<span class="t n375" style="left:601.7px;top:579.6px;font-size:33.5px;font-weight:700;font-style:normal;color:#2f4f9a;-webkit-text-stroke:.2px #2f4f9a;transform:scaleX(1.0428)">375</span>
<span class="t hom" style="left:590.0px;top:623.9px;font-size:19px;font-weight:400;font-style:normal;color:#3a5a9c;-webkit-text-stroke:.3px #3a5a9c;transform:scaleX(1.0639)">Hombres</span>
<span class="t n410" style="left:779.0px;top:579.6px;font-size:33.5px;font-weight:700;font-style:normal;color:#e83e9c;-webkit-text-stroke:.2px #e83e9c;transform:scaleX(1.0553)">410</span>
<span class="t muj" style="left:772.5px;top:623.9px;font-size:19px;font-weight:400;font-style:normal;color:#e0559f;-webkit-text-stroke:.3px #e0559f;transform:scaleX(1.0832)">Mujeres</span>
<span class="t entre" style="left:676.7px;top:670.9px;font-size:19px;font-weight:400;font-style:normal;color:#111;-webkit-text-stroke:.3px #111;transform:scaleX(1.0659)">Entre ellos</span>
<span class="t n23" style="left:605.0px;top:686.6px;font-size:33.5px;font-weight:700;font-style:normal;color:#3a3a3a;-webkit-text-stroke:.2px #3a3a3a;transform:scaleX(1.0197)">23</span>
<span class="t men" style="left:654.8px;top:697.9px;font-size:20.2px;font-weight:400;font-style:normal;color:#444;-webkit-text-stroke:.3px #444;transform:scaleX(1.1405)">Menores de edad</span>
<div style="position:absolute;left:0;top:762.5px;width:1024px;height:2.5px;background:#f5f5f5"></div>
<div class="frame" style="left:0;top:0;width:1024px;height:6.5px"></div>
<div class="frame" style="left:0;top:0;width:5px;height:765px"></div>
<div class="frame" style="left:1019px;top:0;width:5px;height:765px"></div>
</body>
</html>
